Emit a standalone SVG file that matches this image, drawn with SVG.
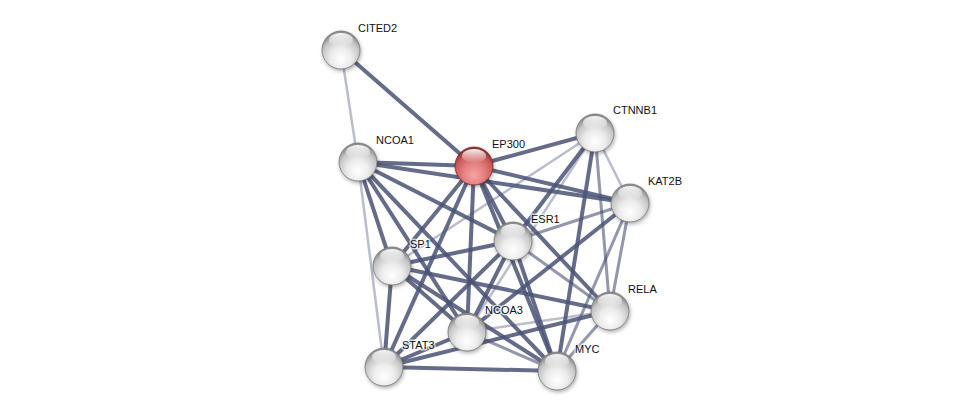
<svg xmlns="http://www.w3.org/2000/svg" width="975" height="416" viewBox="0 0 975 416">
<defs>
<radialGradient id="gw" cx="50%" cy="68%" r="62%" fx="50%" fy="75%">
<stop offset="0%" stop-color="#ffffff"/>
<stop offset="45%" stop-color="#ececec"/>
<stop offset="80%" stop-color="#c6c6c6"/>
<stop offset="100%" stop-color="#8d8d8d"/>
</radialGradient>
<radialGradient id="gr" cx="50%" cy="68%" r="62%" fx="50%" fy="75%">
<stop offset="0%" stop-color="#f7a4a4"/>
<stop offset="45%" stop-color="#e58080"/>
<stop offset="80%" stop-color="#c95a5a"/>
<stop offset="100%" stop-color="#8f3232"/>
</radialGradient>
<linearGradient id="hl" x1="0" y1="0" x2="0" y2="1">
<stop offset="0%" stop-color="#ffffff" stop-opacity="0.95"/>
<stop offset="100%" stop-color="#ffffff" stop-opacity="0"/>
</linearGradient>
<filter id="sh" x="-50%" y="-50%" width="200%" height="200%">
<feGaussianBlur stdDeviation="2"/>
</filter>
<symbol id="shadow" overflow="visible"><circle cx="1" cy="2" r="19" fill="#000" opacity="0.35" filter="url(#sh)"/></symbol>
</defs>
<style>
.e{fill:none;stroke-linecap:butt}
.t{stroke:#4a5275;stroke-opacity:0.85;stroke-width:4}
.m{stroke:#4a5275;stroke-opacity:0.6;stroke-width:3}
.l{stroke:#4a5275;stroke-opacity:0.38;stroke-width:2.5}
.nw{fill:url(#gw);stroke:#7a7a7a;stroke-width:0.8}
.nr{fill:url(#gr);stroke:#7e2c2c;stroke-width:0.8}
.h{fill:url(#hl)}
text{font-family:"Liberation Sans",Arial,sans-serif;font-size:11px;fill:#111;stroke:#fff;stroke-width:3;stroke-opacity:0.7;paint-order:stroke;stroke-linejoin:round}
</style>
<rect width="975" height="416" fill="#fff"/>
<g id="edges" class="e">
<line class="l" x1="341" y1="50" x2="358" y2="162"/>
<line class="t" x1="341" y1="50" x2="474" y2="166"/>
<line class="t" x1="358" y1="162" x2="474" y2="166"/>
<line class="t" x1="358" y1="162" x2="630" y2="203"/>
<line class="t" x1="358" y1="162" x2="513" y2="241"/>
<line class="t" x1="358" y1="162" x2="557" y2="371"/>
<line class="t" x1="358" y1="162" x2="467" y2="332"/>
<line class="t" x1="358" y1="162" x2="392" y2="266"/>
<line class="l" x1="358" y1="162" x2="384" y2="367"/>
<line class="t" x1="474" y1="166" x2="595" y2="133"/>
<line class="t" x1="474" y1="166" x2="630" y2="203"/>
<line class="t" x1="474" y1="166" x2="513" y2="241"/>
<line class="t" x1="474" y1="166" x2="557" y2="371"/>
<line class="t" x1="474" y1="166" x2="610" y2="311"/>
<line class="t" x1="474" y1="166" x2="467" y2="332"/>
<line class="t" x1="474" y1="166" x2="384" y2="367"/>
<line class="t" x1="474" y1="166" x2="392" y2="266"/>
<line class="l" x1="595" y1="133" x2="392" y2="266"/>
<line class="t" x1="595" y1="133" x2="513" y2="241"/>
<line class="l" x1="595" y1="133" x2="467" y2="332"/>
<line class="t" x1="595" y1="133" x2="557" y2="371"/>
<line class="m" x1="595" y1="133" x2="610" y2="311"/>
<line class="l" x1="595" y1="133" x2="630" y2="203"/>
<line class="m" x1="630" y1="203" x2="513" y2="241"/>
<line class="t" x1="630" y1="203" x2="467" y2="332"/>
<line class="m" x1="630" y1="203" x2="610" y2="311"/>
<line class="m" x1="630" y1="203" x2="557" y2="371"/>
<line class="t" x1="513" y1="241" x2="392" y2="266"/>
<line class="t" x1="513" y1="241" x2="384" y2="367"/>
<line class="t" x1="513" y1="241" x2="467" y2="332"/>
<line class="t" x1="513" y1="241" x2="557" y2="371"/>
<line class="m" x1="513" y1="241" x2="610" y2="311"/>
<line class="t" x1="392" y1="266" x2="610" y2="311"/>
<line class="t" x1="392" y1="266" x2="557" y2="371"/>
<line class="t" x1="392" y1="266" x2="467" y2="332"/>
<line class="t" x1="392" y1="266" x2="384" y2="367"/>
<line class="l" x1="467" y1="332" x2="610" y2="311"/>
<line class="m" x1="467" y1="332" x2="557" y2="371"/>
<line class="t" x1="384" y1="367" x2="610" y2="311"/>
<line class="t" x1="384" y1="367" x2="557" y2="371"/>
<line class="t" x1="384" y1="367" x2="467" y2="332"/>
<line class="m" x1="610" y1="311" x2="557" y2="371"/>
</g>
<g id="node-CITED2" transform="translate(341,50)">
<use href="#shadow"/><circle class="nw" r="19"/><ellipse class="h" cx="0" cy="-10" rx="12" ry="7"/>
<text x="17" y="-18">CITED2</text>
</g>
<g id="node-NCOA1" transform="translate(358,162)">
<use href="#shadow"/><circle class="nw" r="19"/><ellipse class="h" cx="0" cy="-10" rx="12" ry="7"/>
<text x="18" y="-18">NCOA1</text>
</g>
<g id="node-EP300" transform="translate(474,166)">
<use href="#shadow"/><circle class="nr" r="19"/><ellipse class="h" cx="0" cy="-10" rx="12" ry="7"/>
<text x="18" y="-18">EP300</text>
</g>
<g id="node-CTNNB1" transform="translate(595,133)">
<use href="#shadow"/><circle class="nw" r="19"/><ellipse class="h" cx="0" cy="-10" rx="12" ry="7"/>
<text x="18" y="-19">CTNNB1</text>
</g>
<g id="node-KAT2B" transform="translate(630,203)">
<use href="#shadow"/><circle class="nw" r="19"/><ellipse class="h" cx="0" cy="-10" rx="12" ry="7"/>
<text x="18" y="-18">KAT2B</text>
</g>
<g id="node-ESR1" transform="translate(513,241)">
<use href="#shadow"/><circle class="nw" r="19"/><ellipse class="h" cx="0" cy="-10" rx="12" ry="7"/>
<text x="18" y="-18">ESR1</text>
</g>
<g id="node-SP1" transform="translate(392,266)">
<use href="#shadow"/><circle class="nw" r="19"/><ellipse class="h" cx="0" cy="-10" rx="12" ry="7"/>
<text x="18" y="-18">SP1</text>
</g>
<g id="node-RELA" transform="translate(610,311)">
<use href="#shadow"/><circle class="nw" r="19"/><ellipse class="h" cx="0" cy="-10" rx="12" ry="7"/>
<text x="18" y="-18">RELA</text>
</g>
<g id="node-NCOA3" transform="translate(467,332)">
<use href="#shadow"/><circle class="nw" r="19"/><ellipse class="h" cx="0" cy="-10" rx="12" ry="7"/>
<text x="18" y="-18">NCOA3</text>
</g>
<g id="node-STAT3" transform="translate(384,367)">
<use href="#shadow"/><circle class="nw" r="19"/><ellipse class="h" cx="0" cy="-10" rx="12" ry="7"/>
<text x="18" y="-18">STAT3</text>
</g>
<g id="node-MYC" transform="translate(557,371)">
<use href="#shadow"/><circle class="nw" r="19"/><ellipse class="h" cx="0" cy="-10" rx="12" ry="7"/>
<text x="18" y="-18">MYC</text>
</g>
</svg>
